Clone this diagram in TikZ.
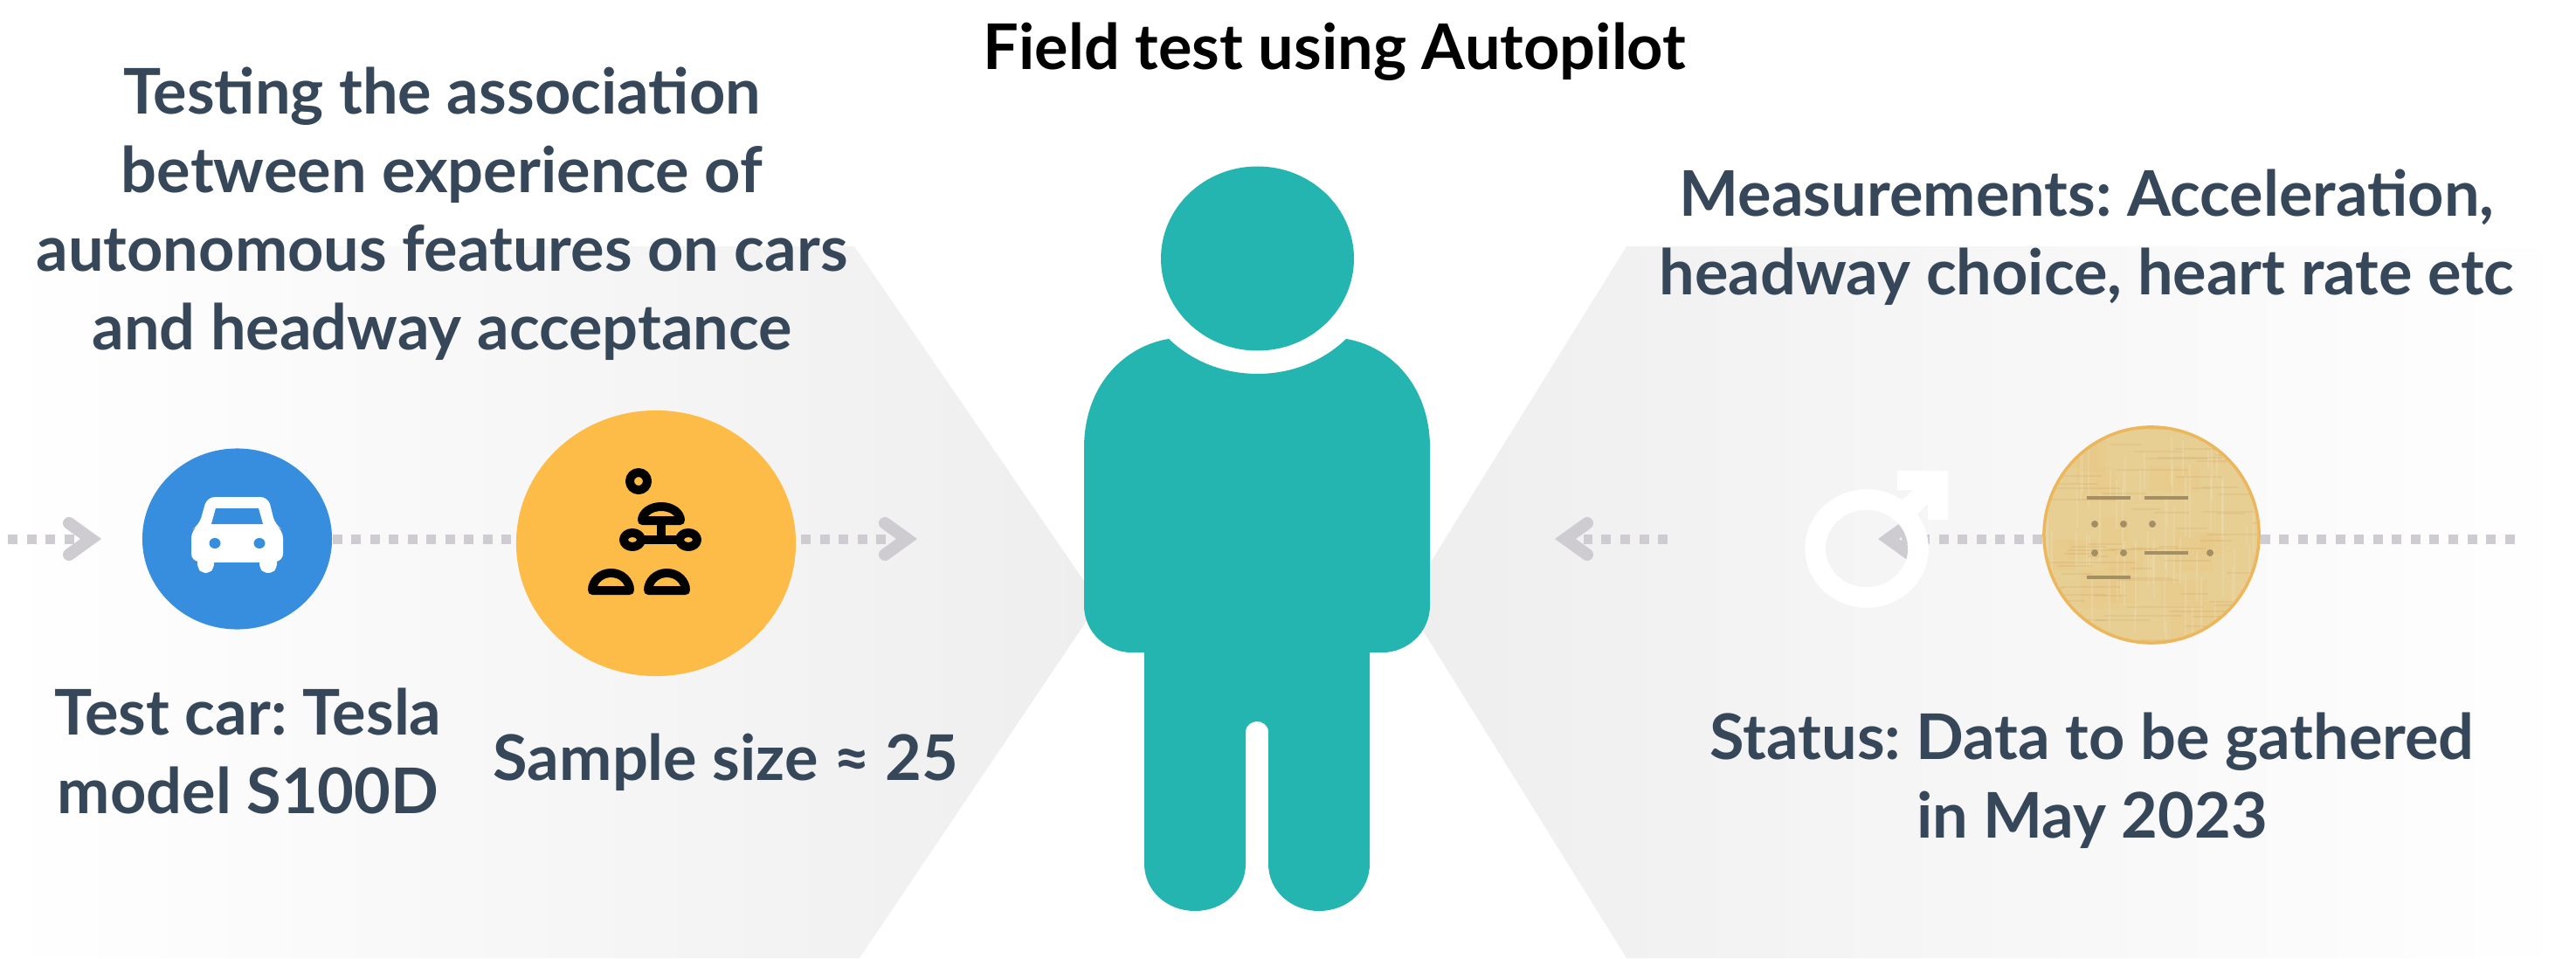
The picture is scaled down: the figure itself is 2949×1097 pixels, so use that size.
\documentclass[tikz,border=0pt]{standalone}
\usepackage{fontspec}
\setmainfont{Lato Bold}
\frenchspacing
\usetikzlibrary{shapes.geometric}
\definecolor{txt}{HTML}{36475A}
\definecolor{teal}{HTML}{25B5B1}
\definecolor{dotg}{HTML}{CECCD1}
\definecolor{bluec}{HTML}{388EDE}
\definecolor{orangec}{HTML}{FDBB48}
\definecolor{pap}{HTML}{E7CF93}
\definecolor{papb}{HTML}{ECB75C}
\definecolor{mor}{HTML}{A38F63}
\definecolor{hexg}{HTML}{EEEEEE}
\tikzset{
 x=0.01cm,y=-0.01cm,
 lab/.style={font=\fontsize{20.5pt}{25.6pt}\selectfont,text=txt,align=center,inner sep=0pt},
 ttl/.style={font=\fontsize{20.5pt}{25.6pt}\selectfont,text=black,align=center,inner sep=0pt},
 disc/.style={ellipse,inner sep=0pt,draw=none},
 dots/.style={draw=dotg,line width=0.11cm,dash pattern=on 0.11cm off 0.105cm},
 chev/.style={draw=dotg,line width=0.14cm,line cap=round,miter limit=10},
 ico/.style={draw=black,line width=0.1cm,line join=round},
 morse/.style={draw=mor,line width=0.048cm},
 mdot/.style={fill=mor,draw=none}
}
\begin{document}
\begin{tikzpicture}
\useasboundingbox (0,0) rectangle (2949,1097);
% background hexagon halves
\shade[left color=white,right color=hexg] (0,282) -- (978,282) -- (1258,690) -- (984,1097) -- (0,1097) -- cycle;
\shade[left color=hexg,right color=white] (2949,282) -- (1862,282) -- (1609,690) -- (1862,1097) -- (2949,1097) -- cycle;
% discs
\node[disc,fill=bluec,minimum width=2.17cm,minimum height=2.07cm] (blue) at (271.5,617) {};
\node[disc,fill=orangec,minimum width=3.2cm,minimum height=3.04cm] (orange) at (751,622) {};
\node[disc,fill=pap,draw=papb,line width=0.035cm,minimum width=2.46cm,minimum height=2.47cm] (papyrus) at (2463,612.5) {};
% free ends
\coordinate (a1) at (9,617); \coordinate (a2) at (86,617);
\coordinate (b1) at (917,617); \coordinate (b2) at (1016,617);
\coordinate (c1) at (1909,617); \coordinate (c2) at (1813,617);
\coordinate (d1) at (2176,617);
\coordinate (e1) at (2884,617);
% dotted connectors
\draw[dots] (a1) -- (a2);
\draw[dots] (blue.east |- 0,617) -- (orange.west |- 0,617);
\draw[dots] (b1) -- (b2);
\draw[dots] (c1) -- (c2);
\draw[dots] (papyrus.west |- 0,617) -- (d1);
\draw[dots] (papyrus.east |- 0,617) -- (e1);
% chevrons
\draw[chev] (79,599) -- (104,617) -- (79,635);
\draw[chev] (1013,599) -- (1038,617) -- (1013,635);
\draw[chev] (1817,599) -- (1792,617) -- (1817,635);
\draw[chev] (2187,599) -- (2162,617) -- (2187,635);
% male sign
\draw[white,line width=0.235cm] (2137,628) ellipse (59 and 56);
\fill[white] (2172,539) -- (2230,539) -- (2230,595) -- (2207,595) -- (2207,576) -- (2195,589) -- (2177,573) -- (2190,561) -- (2172,561) -- cycle;
% papyrus texture and morse
\begin{scope}
\clip (2463,612.5) ellipse (121 and 122);
\pgfmathsetseed{11}
\foreach \i in {1,...,16}{
  \pgfmathsetmacro{\xc}{2340+220*rnd}
  \pgfmathsetmacro{\yc}{490+220*rnd}
  \pgfmathsetmacro{\wc}{20+40*rnd}
  \pgfmathsetmacro{\hc}{20+40*rnd}
  \fill[orange!40!pap,opacity=.08] (\xc,\yc) rectangle ++(\wc,\hc);
}
\foreach \i in {1,...,70}{
  \pgfmathsetmacro{\xa}{2340+246*rnd}
  \pgfmathsetmacro{\ya}{490+245*rnd}
  \pgfmathsetmacro{\la}{20+70*rnd}
  \draw[white,opacity=.12,line width=0.02cm] (\xa,\ya) -- ++(0,\la);
  \pgfmathsetmacro{\xb}{2340+246*rnd}
  \pgfmathsetmacro{\yb}{490+245*rnd}
  \draw[brown,opacity=.12,line width=0.02cm] (\xb,\yb) -- ++(\la,0);
}
\end{scope}
\draw[morse] (2389,570) -- (2439,570);
\draw[morse] (2455,570) -- (2505,570);
\draw[morse] (2455,633) -- (2505,633);
\draw[morse] (2389,661) -- (2439,661);
\foreach \px/\py in {2398/600,2431/600,2464/600,2398/633,2431/633,2530/633}{
  \fill[mdot] (\px,\py) circle (4);
}
% car icon
\fill[white,rounded corners=0.05cm] (226,630) -- (226,650) -- (231,656) -- (240,656) -- (245,650) -- (245,630) -- cycle;
\fill[white,rounded corners=0.05cm] (297,630) -- (297,650) -- (302,656) -- (312,656) -- (317,650) -- (317,630) -- cycle;
\fill[white,rounded corners=0.09cm] (237,569) -- (307,569) -- (315,601) -- (324,607) -- (324,643) -- (219,643) -- (219,607) -- (228,601) -- cycle;
\fill[white] (226,640) rectangle (317,644);
\fill[bluec] (247,582) -- (296,582) -- (301,600) -- (242,600) -- cycle;
\fill[bluec] (246,622) ellipse (6.5 and 6);
\fill[bluec] (297,622) ellipse (6.5 and 6);
% tree icon
\draw[ico] (731,551) circle (10);
\draw[ico] (735,596) arc[start angle=180,end angle=0,x radius=22,y radius=-16] -- cycle;
\draw[ico] (757,596) -- (757,618);
\draw[ico] (724,618) -- (788,618);
\filldraw[ico,fill=orangec] (724,618) ellipse (10 and 8);
\filldraw[ico,fill=orangec] (788,618) ellipse (10 and 8);
\draw[ico] (678,676) arc[start angle=180,end angle=0,x radius=21.5,y radius=-20] -- cycle;
\draw[ico] (742,676) arc[start angle=180,end angle=0,x radius=21.5,y radius=-20] -- cycle;
% person
\fill[teal] (1439.5,296) ellipse (110.5 and 105.5);
\fill[teal] (1338,388)
  .. controls (1365,414) and (1401,428) .. (1439.5,428)
  .. controls (1478,428) and (1514,414) .. (1541,388)
  .. controls (1590,396) and (1637,440) .. (1637,513)
  -- (1637,693)
  .. controls (1637,725) and (1610,747) .. (1583,747)
  -- (1568,747) -- (1568,989)
  .. controls (1568,1020) and (1542,1043) .. (1510,1043)
  .. controls (1478,1043) and (1452,1020) .. (1452,989)
  -- (1452,838)
  .. controls (1452,830) and (1445,826) .. (1439,826)
  .. controls (1433,826) and (1426,830) .. (1426,838)
  -- (1426,989)
  .. controls (1426,1020) and (1400,1043) .. (1368,1043)
  .. controls (1336,1043) and (1310,1020) .. (1310,989)
  -- (1310,747) -- (1295,747)
  .. controls (1268,747) and (1241,725) .. (1241,693)
  -- (1241,513)
  .. controls (1241,440) and (1288,396) .. (1338,388) -- cycle;
% text
\node[ttl] (title) at (1528,59) {Field test using Autopilot};
\node[lab] (goal) at (506,245) {Testing the association\\between experience of\\autonomous features on cars\\and headway acceptance};
\node[lab] (meas) at (2389,272) {Measurements: Acceleration,\\headway choice, heart rate etc};
\node[lab] (cartxt) at (284,860) {Test car: Tesla\\model S100D};
\node[lab] (sample) at (831,873) {Sample size ≈ 25};
\node[lab] (status) at (2395,894) {Status: Data to be gathered\\in May 2023};
\end{tikzpicture}
\end{document}
